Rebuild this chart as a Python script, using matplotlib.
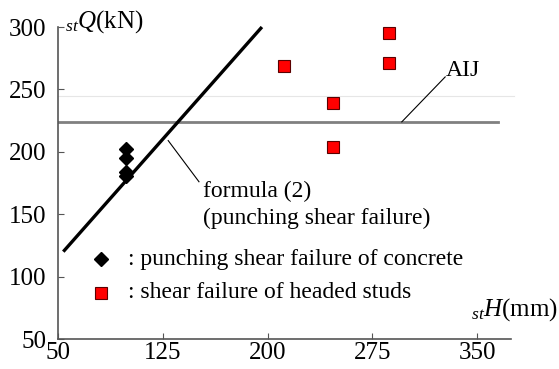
import numpy as np
import matplotlib.pyplot as plt

plt.rcParams['font.family'] = ['Liberation Serif', 'DejaVu Serif']
plt.rcParams['mathtext.fontset'] = 'custom'
plt.rcParams['mathtext.rm'] = 'Liberation Serif'
plt.rcParams['mathtext.it'] = 'Liberation Serif:italic'

# punching shear failure of concrete
punch_h = [99, 99, 99, 99]
punch_q = [202, 195, 184, 181]

# shear failure of headed studs
stud_h = [212, 247, 247, 287, 287]
stud_q = [269, 239, 204, 295, 271]

# formula (2) line and AIJ value
formula_h = [54, 196]
formula_q = [120, 300]
aij_q = 224

xticks = [50, 125, 200, 275, 350]
yticks = [50, 100, 150, 200, 250, 300]

fig = plt.figure(figsize=(5.59, 3.69), dpi=100)
ax = fig.add_axes([0.1032, 0.0813, 0.8108, 0.8455])

ax.plot([50, 376], [245, 245], color='#e6e6e6', lw=0.8, clip_on=False)
ax.plot([50, 365], [aij_q, aij_q], color='#808080', lw=2.0, zorder=2)
ax.plot(formula_h, formula_q, color='black', lw=2.4, solid_capstyle='butt', clip_on=False, zorder=3)

ax.plot(punch_h, punch_q, linestyle='none', marker='D', ms=7, color='black', zorder=4)
ax.plot(stud_h, stud_q, linestyle='none', marker='s', ms=9, mfc='#ff0000', mec='#5a0000', mew=0.8,
        clip_on=False, zorder=4)

# legend drawn as text
ax.plot([81], [114], marker='D', ms=7.5, color='black', clip_on=False)
ax.plot([81], [87], marker='s', ms=9, mfc='#ff0000', mec='#5a0000', mew=0.8, clip_on=False)
ax.text(100, 114, ': punching shear failure of concrete', fontsize=17, va='center')
ax.text(100, 87, ': shear failure of headed studs', fontsize=17, va='center')

# annotations
ax.plot([129, 151], [209, 176], color='black', lw=0.8)
ax.text(154, 168, 'formula (2)', fontsize=17, va='center')
ax.text(154, 147, '(punching shear failure)', fontsize=17, va='center')
ax.plot([296, 327], [224, 260], color='black', lw=0.8)
ax.text(327.5, 265, 'AIJ', fontsize=17, va='center')

ax.set_xlim(50, 374)
ax.set_ylim(50, 300)
ax.set_xticks(xticks)
ax.set_yticks(yticks)
ax.tick_params(direction='in', length=4, width=0.8, colors='#555555', labelcolor='black',
               labelsize=18)
ax.tick_params(axis='y', pad=8)
ax.tick_params(axis='x', pad=2)
for s in ['top', 'right']:
    ax.spines[s].set_visible(False)
for s in ['left', 'bottom']:
    ax.spines[s].set_color('#555555')
    ax.spines[s].set_linewidth(1.2)

ax.text(55.2, 304, r'$_{st}Q$(kN)', fontsize=18, va='center', clip_on=False)
fig.text(0.998, 1 - 310 / 369, r'$_{st}H$(mm)', fontsize=18, ha='right', va='center')

fig.savefig('out.png', dpi=100)
